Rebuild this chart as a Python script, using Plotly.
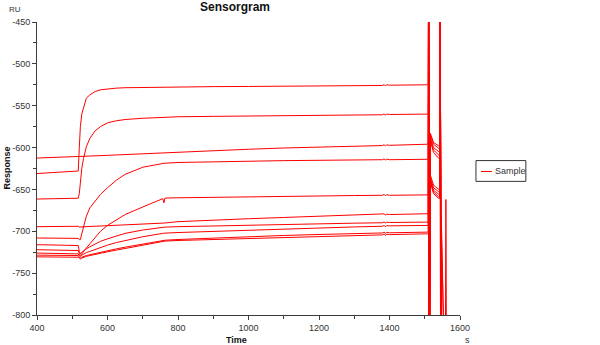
import plotly.graph_objects as go

# ---------------- data ----------------
time_main = [400, 517, 520, 523, 527, 532, 540, 550, 565, 580, 600, 625, 650, 700,
             757, 760, 763, 800, 900, 1000, 1100, 1200, 1300, 1380, 1385, 1388,
             1392, 1400, 1508]
time_regen = [1510, 1511, 1513, 1516, 1525, 1540, 1542, 1543, 1545, 1547, 1550,
              1558, 1560, 1562]

resp_1 = [-631, -628, -600, -575, -560, -553, -541, -537, -533, -531, -530, -529,
          -528.5, -528.2, -528, -527.5, -527.5, -527.5, -527.2, -527, -526.5, -526.2,
          -526, -525.8, -524.8, -526.3, -525, -525.5, -525]
resp_2 = [-661.5, -660.5, -655, -640, -625, -613, -599, -589, -580, -575, -570.5,
          -568, -566.5, -565, -563.8, -563.5, -563.5, -563.2, -562.7, -562.3, -561.8,
          -561.5, -561, -560.8, -559.8, -561.3, -560, -560.5, -560]
resp_3 = [-612.5, -611, -611, -611, -611, -610.8, -610.6, -610.4, -610, -609.7,
          -609.3, -608.8, -608.3, -607.3, -606.2, -606.1, -606, -605.3, -603.5, -602,
          -600.5, -599.3, -598.3, -597.6, -596.6, -598.1, -596.8, -597.3, -596]
resp_4 = [-708, -708.5, -710, -710, -703, -695, -682, -672, -664, -656, -648, -639,
          -632, -623.5, -619, -618.8, -618.7, -617.8, -616.8, -616.2, -615.6, -615.2,
          -614.8, -614.5, -613.5, -615, -613.8, -614.5, -614]
resp_5 = [-722, -723, -727, -729, -727, -724, -720, -715, -707, -700, -693, -686,
          -680, -671, -661, -666, -660.3, -660, -659.3, -658.7, -658.2, -657.8,
          -657.3, -657, -656, -657.5, -656.3, -657, -656.5]
resp_6 = [-694.5, -694, -695, -695, -694.8, -694.6, -694.4, -694.2, -694, -693.7,
          -693.3, -692.8, -692.3, -691.3, -690.3, -690.2, -690.1, -688.5, -686.5,
          -685, -683.5, -682, -680.8, -680, -679.2, -680.7, -679.5, -680, -679]
resp_7 = [-716, -717, -724, -727, -725, -723, -721, -718.5, -715, -712, -709,
          -705.5, -702.5, -698.5, -695.5, -695.2, -695, -694.5, -693.5, -692.6,
          -691.8, -691, -690.3, -689.8, -688.8, -690.3, -689.1, -689.5, -689]
resp_8 = [-726, -727, -729, -730, -728.5, -727, -725.5, -724, -721.5, -719, -716.5,
          -713.5, -711, -706.5, -702.5, -702.3, -702.2, -701.5, -700, -698.5, -697.2,
          -696, -694.8, -694, -693, -694.5, -693.3, -693.5, -693]
resp_9 = [-728.5, -729, -731, -732, -731, -730, -729, -728, -726.5, -725, -723,
          -721, -719, -715, -711, -710.8, -710.7, -709.8, -708, -706.5, -705, -703.8,
          -702.8, -702, -701, -702.5, -701.3, -701.8, -701]
resp_10 = [-730.5, -731, -732, -733, -732, -731, -730, -729, -727.5, -726, -724.5,
           -722.5, -720.5, -716.5, -712, -711.8, -711.7, -711, -709.8, -708.5, -707.5,
           -706.3, -705.2, -704.3, -703.3, -704.8, -703.6, -704, -703]

# regeneration section (values beyond the axis range are cut off by the axes)
regen_1 = [-525, -300, -900, -585, -596, -601, -601, -300, -900, -900, -900, -900, -900, -900]
regen_2 = [-560, -300, -900, -588, -600, -605, -605, -300, -900, -900, -900, -900, -900, -900]
regen_3 = [-596, -483, -900, -590, -603, -609, -609, -300, -900, -900, -900, -900, -900, -900]
regen_4 = [-614, -510, -900, -592, -606, -613, -613, -300, -900, -900, -900, -900, -900, -900]
regen_5 = [-656.5, -300, -900, -583, -594, -598, -598, -300, -900, -900, -900, -900, -900, -900]
regen_6 = [-679, -300, -900, -633, -645, -650, -650, -300, -900, -684, -900, -900, -900, -900]
regen_7 = [-689, -300, -900, -636, -648, -653, -653, -300, -900, -696, -900, -900, -900, -900]
regen_8 = [-693, -300, -900, -638, -651, -656, -656, -300, -900, -900, -900, -900, -900, -900]
regen_9 = [-701, -300, -900, -640, -653, -659, -659, -300, -900, -900, -900, -900, -900, -900]
regen_10 = [-703, -300, -900, -642, -655, -661, -661, -300, -900, -900, -900, -900, -662, -900]

curves = [
    (resp_1, regen_1), (resp_2, regen_2), (resp_3, regen_3), (resp_4, regen_4),
    (resp_5, regen_5), (resp_6, regen_6), (resp_7, regen_7), (resp_8, regen_8),
    (resp_9, regen_9), (resp_10, regen_10),
]

x_ticks = [400, 600, 800, 1000, 1200, 1400, 1600]
y_ticks = [-450, -500, -550, -600, -650, -700, -750, -800]

series_name = "Sample"
line_color = "#ff0000"
axis_color = "#3c3c3c"
font_family = "Arial, 'Liberation Sans', sans-serif"

# ---------------- figure ----------------
fig = go.Figure()
for main_vals, regen_vals in curves:
    fig.add_trace(go.Scatter(
        x=time_main + time_regen,
        y=main_vals + regen_vals,
        mode="lines",
        line=dict(color=line_color, width=1),
        name=series_name,
        legendgroup=series_name,
        showlegend=False,
        hoverinfo="skip",
    ))

axis_common = dict(
    showline=True, linecolor=axis_color, linewidth=1,
    ticks="outside", ticklen=4, tickcolor=axis_color, tickwidth=1,
    showgrid=False, zeroline=False,
    tickfont=dict(family=font_family, size=9, color="#333333"),
)

fig.update_layout(
    width=600, height=345,
    margin=dict(l=36, r=140, t=22, b=27, pad=0),
    paper_bgcolor="white", plot_bgcolor="white",
    showlegend=False,
    font=dict(family=font_family, color="#222222"),
    xaxis=dict(range=[400, 1600], tickvals=x_ticks, ticktext=[str(v) for v in x_ticks],
               minor=dict(dtick=100, tick0=400, ticks="outside", ticklen=3,
                          tickcolor=axis_color, showgrid=False),
               **axis_common),
    yaxis=dict(range=[-800, -450], tickvals=y_ticks, ticktext=[str(v) for v in y_ticks],
               minor=dict(dtick=25, tick0=-800, ticks="outside", ticklen=3,
                          tickcolor=axis_color, showgrid=False),
               **axis_common),
)

annotations = [
    dict(text="<b>Sensorgram</b>", x=0.469, y=1.0507, xref="paper", yref="paper",
         xanchor="center", yanchor="middle", showarrow=False,
         font=dict(size=12, color="#111111", family=font_family)),
    dict(text="RU", x=-0.0531, y=1.0439, xref="paper", yref="paper",
         xanchor="center", yanchor="middle", showarrow=False,
         font=dict(size=8, color="#333333", family=font_family)),
    dict(text="<b>Response</b>", x=-0.0731, y=0.5, xref="paper", yref="paper",
         xanchor="center", yanchor="middle", textangle=-90, showarrow=False,
         font=dict(size=9, color="#111111", family=font_family)),
    dict(text="<b>Time</b>", x=0.4717, y=-0.084, xref="paper", yref="paper",
         xanchor="center", yanchor="middle", showarrow=False,
         font=dict(size=9, color="#111111", family=font_family)),
    dict(text="s", x=1.0189, y=-0.086, xref="paper", yref="paper",
         xanchor="center", yanchor="middle", showarrow=False,
         font=dict(size=9, color="#333333", family=font_family)),
    # legend label
    dict(text=series_name, x=(493 - 36) / 424, y=(318 - 173) / 296,
         xref="paper", yref="paper", xanchor="left", yanchor="middle",
         showarrow=False, font=dict(size=9, color="#333333", family=font_family)),
]
fig.update_layout(annotations=annotations)

# legend frame and line sample (drawn in paper coordinates)
fig.add_shape(type="rect", xref="paper", yref="paper",
              x0=(476 - 36) / 424, x1=(526 - 36) / 424,
              y0=(318 - 183) / 296, y1=(318 - 162) / 296,
              line=dict(color="#333333", width=1), fillcolor="white", layer="above")
fig.add_shape(type="line", xref="paper", yref="paper",
              x0=(481 - 36) / 424, x1=(492 - 36) / 424,
              y0=(318 - 173) / 296, y1=(318 - 173) / 296,
              line=dict(color=line_color, width=1), layer="above")

fig.write_html("out.html")
